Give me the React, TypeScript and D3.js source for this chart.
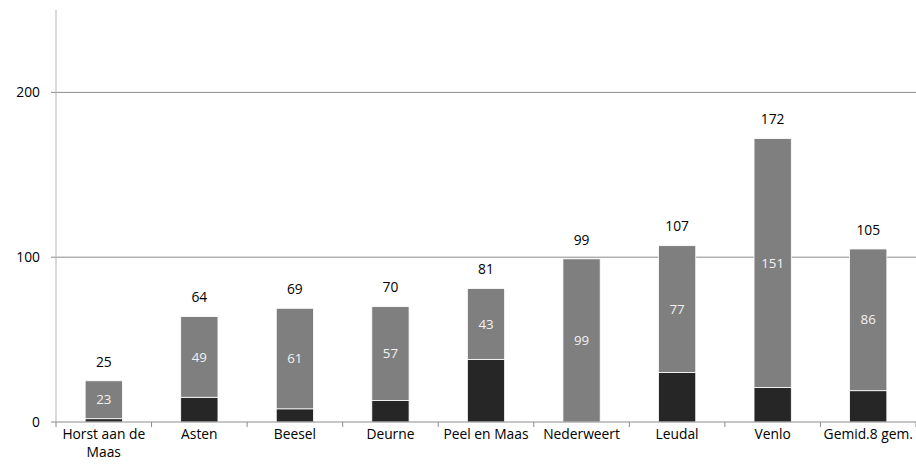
import React from "react";
import * as d3 from "d3";

const categories = ["Horst aan de Maas", "Asten", "Beesel", "Deurne", "Peel en Maas", "Nederweert", "Leudal", "Venlo", "Gemid.8 gem."];
const darkValues = [2, 15, 8, 13, 38, 0, 30, 21, 19];
const grayValues = [23, 49, 61, 57, 43, 99, 77, 151, 86];
const totals = [25, 64, 69, 70, 81, 99, 107, 172, 105];
const yTicks = [0, 100, 200];

const W = 916, H = 474;
const M = { left: 56, right: 0, top: 10, bottom: 52 };
const FONT = "'Open Sans', sans-serif";
const FS = 13.8;

function wrapLabel(s: string): string[] {
  if (s === "Horst aan de Maas") return ["Horst aan de", "Maas"];
  return [s];
}

export default function App() {
  const x = d3.scaleBand<string>().domain(categories).range([M.left, W - M.right]).paddingInner(0.61).paddingOuter(0.305);
  const y = d3.scaleLinear().domain([0, 250]).range([H - M.bottom, M.top]);
  const step = x.step();
  const x0 = M.left;
  const bw = x.bandwidth();
  return (
    <svg width={W} height={H} style={{ position: "absolute", left: 0, top: 0, background: "#fff" }} fontFamily={FONT}>
      {yTicks.filter(t => t > 0).map(t => (
        <line key={"g" + t} x1={x0} x2={W} y1={y(t)} y2={y(t)} stroke="#8c8c8c" strokeWidth={1} />
      ))}
      {yTicks.map(t => (
        <g key={"t" + t}>
          <line x1={x0 - 5} x2={x0} y1={y(t)} y2={y(t)} stroke="#8c8c8c" />
          <text x={40} y={y(t)} dy="0.35em" textAnchor="end" fontSize={FS} fill="#000">{t}</text>
        </g>
      ))}
      {categories.map((c, i) => {
        const bx = x(c)!;
        const d = darkValues[i], g = grayValues[i];
        return (
          <g key={c}>
            {d > 0 && <rect x={bx} width={bw} y={y(d)} height={y(0) - y(d)} fill="#262626" stroke="#ffffff" strokeWidth={0.8} />}
            <rect x={bx} width={bw} y={y(d + g)} height={y(d) - y(d + g)} fill="#7f7f7f" stroke="#ffffff" strokeWidth={0.8} />
            <text x={bx + bw / 2} y={(y(d) + y(d + g)) / 2} dy="0.35em" textAnchor="middle" fontSize={FS - 0.5} fill="#f2f2f2">{g}</text>
            <text x={bx + bw / 2} y={y(totals[i]) - 19} dy="0.35em" textAnchor="middle" fontSize={FS} fill="#000">{totals[i]}</text>
            {wrapLabel(c).map((ln, j) => (
              <text key={j} x={bx + bw / 2} y={434 + j * 18.5} dy="0.35em" textAnchor="middle" fontSize={FS} fill="#000">{ln}</text>
            ))}
          </g>
        );
      })}
      <line x1={x0} x2={x0} y1={M.top} y2={y(0)} stroke="#b3b3b3" strokeWidth={1} />
      <line x1={x0} x2={W} y1={y(0)} y2={y(0)} stroke="#8c8c8c" strokeWidth={1} />
      {d3.range(categories.length + 1).map(k => (
        <line key={"xt" + k} x1={x0 + k * step} x2={x0 + k * step} y1={y(0)} y2={y(0) + 5} stroke="#8c8c8c" />
      ))}
    </svg>
  );
}
